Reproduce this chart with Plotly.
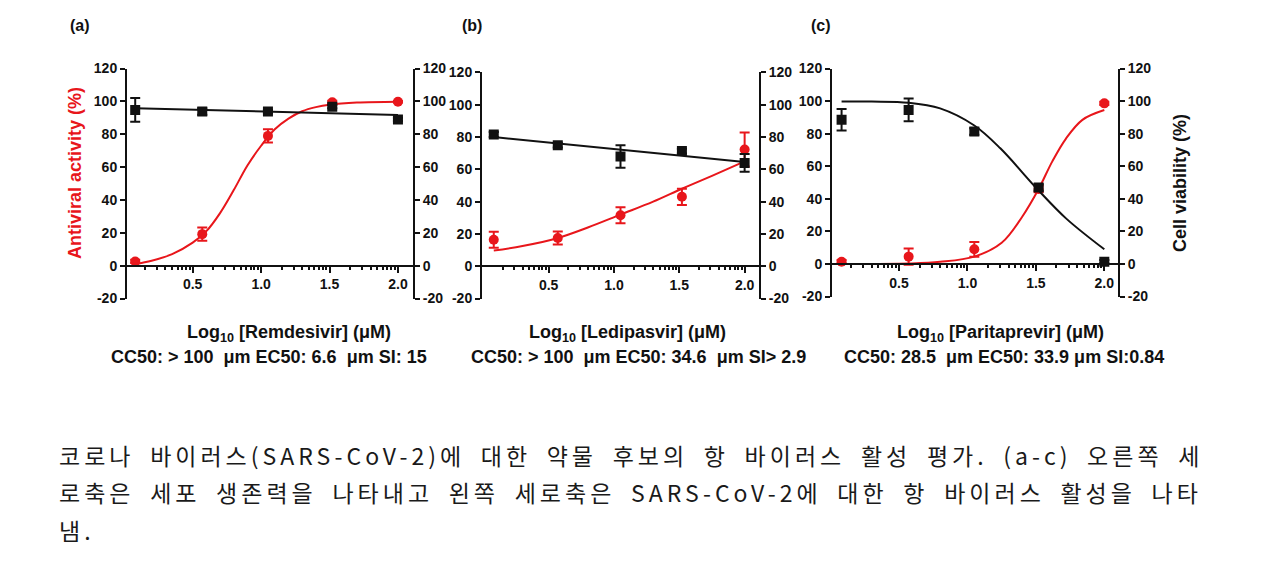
import math
import plotly.graph_objects as go

W, H = 1280, 562
OFF = 8  # the page body adds an 8px margin around the figure

# log10 concentration (uM) of the five test points
conc_log = [0.08, 0.57, 1.05, 1.52, 2.0]

# (a) Remdesivir
rem_antiviral = [2.6, 19.2, 79.0, 99.4, 99.8]
rem_antiviral_err = [1.0, 4.0, 4.0, 1.0, 0.5]
rem_viability = [94.8, 93.8, 93.8, 96.8, 89.0]
rem_viability_err = [7.2, 2.0, 1.0, 1.0, 1.0]
rem_fit_x = [0.08, 0.2, 0.35, 0.5, 0.6, 0.7, 0.8, 0.9, 1.0, 1.1, 1.2, 1.3, 1.4, 1.5, 1.7, 2.0]
rem_fit_antiviral = [1.0, 3.0, 7.0, 14.0, 21.0, 32.0, 46.0, 61.0, 73.0, 83.0, 89.5, 94.0, 96.5, 98.0, 99.3, 99.8]
rem_fit_viab_x = [0.08, 2.0]
rem_fit_viability = [95.8, 91.7]

# (b) Ledipasvir
led_antiviral = [16.4, 17.5, 31.6, 43.0, 72.3]
led_antiviral_err = [5.0, 4.0, 5.0, 5.0, 10.6]
led_viability = [81.6, 75.0, 68.0, 71.3, 64.0]
led_viability_err = [1.5, 1.5, 7.0, 1.5, 5.5]
led_fit_x = [0.08, 0.3, 0.57, 0.8, 1.05, 1.3, 1.52, 1.75, 2.0]
led_fit_antiviral = [9.7, 12.5, 17.5, 24.0, 32.0, 40.0, 48.0, 56.0, 65.0]
led_fit_viab_x = [0.08, 2.0]
led_fit_viability = [80.0, 64.5]

# (c) Paritaprevir
par_antiviral = [1.4, 4.5, 9.0, 46.0, 98.6]
par_antiviral_err = [1.0, 5.0, 4.5, 2.0, 1.0]
par_viability = [88.5, 94.6, 81.4, 47.0, 1.4]
par_viability_err = [6.6, 7.0, 2.0, 2.0, 1.0]
par_fit_x = [0.08, 0.57, 0.8, 1.05, 1.25, 1.4, 1.52, 1.62, 1.72, 1.84, 2.0]
par_fit_antiviral = [0.0, 0.3, 1.3, 4.5, 13.0, 29.0, 46.0, 63.0, 77.0, 88.5, 94.5]
par_fit_viab_x = [0.08, 0.3, 0.57, 0.8, 1.05, 1.24, 1.51, 1.72, 2.0]
par_fit_viability = [99.8, 99.7, 99.0, 95.5, 85.0, 71.0, 46.0, 28.0, 9.0]

drugs = ["Remdesivir", "Ledipasvir", "Paritaprevir"]
panel_tags = ["(a)", "(b)", "(c)"]
stats = [
    "CC50: &gt; 100 &nbsp;μm EC50: 6.6 &nbsp;μm SI: 15",
    "CC50: &gt; 100 &nbsp;μm EC50: 34.6 &nbsp;μm SI&gt; 2.9",
    "CC50: 28.5 &nbsp;μm EC50: 33.9 μm SI:0.84",
]
caption_lines = [
    "코로나 바이러스(SARS-CoV-2)에 대한 약물 후보의 항 바이러스 활성 평가. (a-c) 오른쪽 세",
    "로축은 세포 생존력을 나타내고 왼쪽 세로축은 SARS-CoV-2에 대한 항 바이러스 활성을 나타",
    "냄.",
]
y_ticks = [-20, 0, 20, 40, 60, 80, 100, 120]
y_ticktext = ["-20", "0", "20", "40", "60", "80", "100", "120"]
x_ticks = [0.5, 1.0, 1.5, 2.0]
x_ticktext = ["0.5", "1.0", "1.5", "2.0"]

series = [
    (rem_antiviral, rem_antiviral_err, rem_viability, rem_viability_err,
     rem_fit_x, rem_fit_antiviral, rem_fit_viab_x, rem_fit_viability),
    (led_antiviral, led_antiviral_err, led_viability, led_viability_err,
     led_fit_x, led_fit_antiviral, led_fit_viab_x, led_fit_viability),
    (par_antiviral, par_antiviral_err, par_viability, par_viability_err,
     par_fit_x, par_fit_antiviral, par_fit_viab_x, par_fit_viability),
]

# pixel boxes: left axis, right axis, y=120 line, y=-20 line, x range
boxes = [
    (127, 413, 67, 298, [0.02, 2.11]),
    (482, 759, 71, 298, [-0.01, 2.11]),
    (832, 1118, 67, 296, [0.01, 2.10]),
]
tag_x = [80, 472, 821]
xtitle_pos = [(289, 333), (627, 333), (1000, 333)]
stats_pos = [(269, 357), (638, 357), (1004, 357)]

RED = "#e8161b"
BLACK = "#111111"
FONT = "Liberation Sans"
MINOR = [m + 0.5 * math.log10(k) for m in (0.0, 0.5, 1.0, 1.5) for k in range(2, 10)]


def px(x):
    return (x - OFF) / W


def py(y):
    # stretch slightly about the zero line to match the page render
    y = 265 + (y - 265) * 1.025
    return 1 - (y - OFF) / H


def note(x, y, text, font, **kw):
    return dict(x=px(x), y=py(y), xref="paper", yref="paper", text=text, showarrow=False,
                xanchor=kw.pop("xanchor", "center"), yanchor="middle", font=font, **kw)


fig = go.Figure()
annotations = []

for i in range(3):
    av, av_err, cv, cv_err, fx, fav, vx, fcv = series[i]
    left, right, top, bottom, xr = boxes[i]
    xa = "x" if i == 0 else "x%d" % (i + 1)
    ya = "y" if i == 0 else "y%d" % (2 * i + 1)
    yb = "y%d" % (2 * i + 2)

    fig.add_trace(go.Scatter(x=vx, y=fcv, mode="lines", line=dict(color=BLACK, width=2, shape="spline"),
                             xaxis=xa, yaxis=yb, showlegend=False))
    fig.add_trace(go.Scatter(x=fx, y=fav, mode="lines", line=dict(color=RED, width=2, shape="spline"),
                             xaxis=xa, yaxis=ya, showlegend=False))
    fig.add_trace(go.Scatter(x=conc_log, y=cv, mode="markers",
                             marker=dict(symbol="square", size=10, color=BLACK),
                             error_y=dict(type="data", array=cv_err, color=BLACK, thickness=2, width=5),
                             xaxis=xa, yaxis=yb, showlegend=False))
    fig.add_trace(go.Scatter(x=conc_log, y=av, mode="markers",
                             marker=dict(symbol="circle", size=10, color=RED),
                             error_y=dict(type="data", array=av_err, color=RED, thickness=2, width=5),
                             xaxis=xa, yaxis=ya, showlegend=False))

    ydom = [py(bottom), py(top)]
    zero_pos = ydom[0] + (ydom[1] - ydom[0]) * 20 / 140
    xkey = "xaxis" if i == 0 else "xaxis%d" % (i + 1)
    ykey = "yaxis" if i == 0 else "yaxis%d" % (2 * i + 1)
    ykey2 = "yaxis%d" % (2 * i + 2)
    tickfont = dict(family=FONT, size=14, color=BLACK, weight="bold")
    yax = dict(domain=ydom, range=[-20, 120], anchor=xa, showline=True, linecolor=BLACK,
               linewidth=2, ticks="outside", ticklen=5, tickwidth=2, tickcolor=BLACK,
               tickvals=y_ticks, ticktext=y_ticktext, tickfont=tickfont, showgrid=False,
               zeroline=False)
    fig.update_layout(**{
        xkey: dict(domain=[px(left), px(right)], range=xr, anchor="free", position=zero_pos,
                   showline=True, linecolor=BLACK, linewidth=2, ticks="outside", ticklen=6,
                   tickwidth=2, tickcolor=BLACK, tickvals=x_ticks, ticktext=x_ticktext,
                   tickfont=tickfont,
                   minor=dict(tickvals=MINOR, ticks="outside", ticklen=3, tickwidth=1.5,
                              tickcolor=BLACK),
                   showgrid=False, zeroline=False),
        ykey: dict(yax, side="left"),
        ykey2: dict(yax, side="right", overlaying=ya),
    })

    bold18 = dict(family=FONT, size=18, color=BLACK, weight="bold")
    annotations.append(dict(x=px(tag_x[i]), y=1.0, xref="paper", yref="paper", text=panel_tags[i],
                            showarrow=False, xanchor="center", yanchor="top", borderpad=0,
                            font=dict(family=FONT, size=16, color=BLACK, weight="bold")))
    annotations.append(note(*xtitle_pos[i], "Log<sub>10</sub> [%s] (μM)" % drugs[i], bold18))
    annotations.append(note(*stats_pos[i], stats[i], bold18))

annotations.append(note(75, 172, "Antiviral activity (%)",
                        dict(family=FONT, size=18, color=RED, weight="bold"), textangle=-90))
annotations.append(note(1180, 182, "Cell viability (%)",
                        dict(family=FONT, size=18, color=BLACK, weight="bold"), textangle=-90))

caption_y = [455, 492, 530]
for line, cy in zip(caption_lines, caption_y):
    annotations.append(note(57, cy,
                            '<span style="letter-spacing:4px;word-spacing:6.5px">%s</span>' % line,
                            dict(family="Noto Sans CJK KR", size=23, color="#1a1a1a"),
                            xanchor="left"))

fig.update_layout(width=W, height=H, margin=dict(l=0, r=0, t=0, b=0),
                  paper_bgcolor="white", plot_bgcolor="rgba(0,0,0,0)",
                  annotations=annotations)

fig.write_html("out.html")
